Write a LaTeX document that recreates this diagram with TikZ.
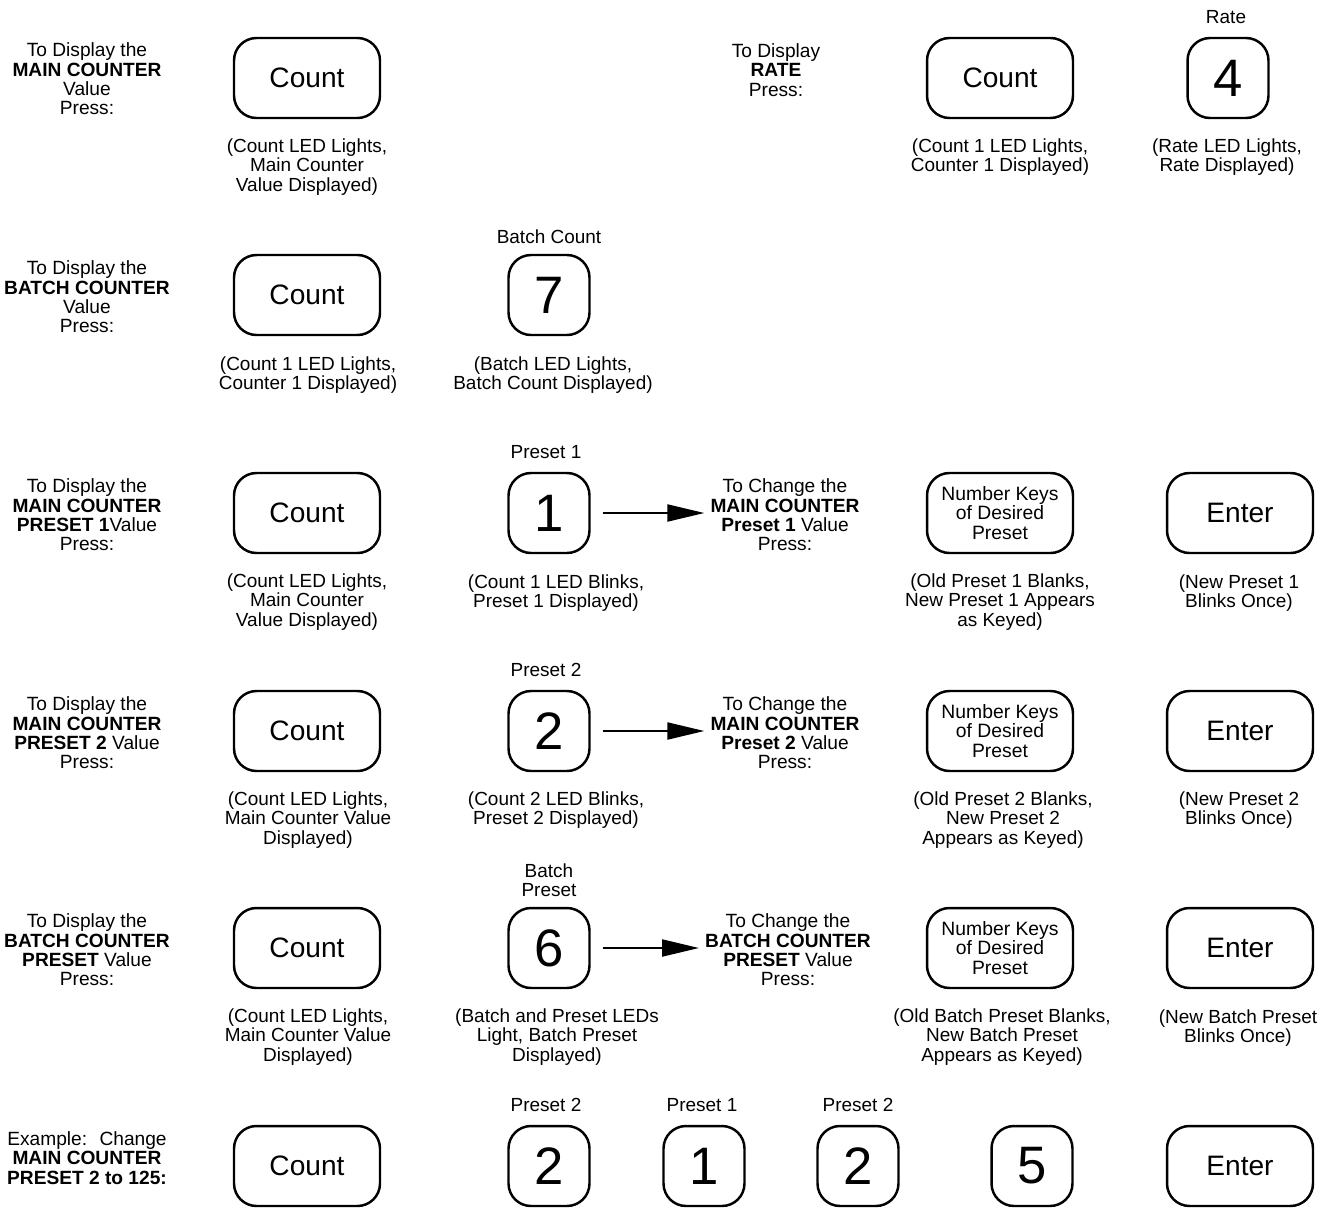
\documentclass[tikz,border=0pt]{standalone}
\usepackage{fontspec}
\setmainfont{Liberation Sans}
\usetikzlibrary{arrows.meta}
\usetikzlibrary{positioning}
\tikzset{widekey/.style = {draw, rounded corners = 0.45cm, line width = 1.4pt, minimum width = 2.92cm, minimum height = 1.6cm, inner sep = 0, font = \fontsize{16}{18}\selectfont}}
\tikzset{numkey/.style = {draw, rounded corners = 0.45cm, line width = 1.4pt, minimum width = 1.62cm, minimum height = 1.6cm, inner sep = 0, font = \fontsize{30}{32}\selectfont}}
\tikzset{side/.style = {align = center, font = \fontsize{10.9}{11}\selectfont}}
\tikzset{note/.style = {align = center, font = \fontsize{10.8}{11.05}\selectfont}}
\tikzset{tag/.style = {align = center, font = \fontsize{10.8}{11.05}\selectfont}}
\tikzset{arr/.style = {line width = 1.2pt, -{Triangle[length = 0.74cm, width = 0.34cm]}, shorten <= 0.24cm}}

\begin{document}
\begin{tikzpicture}[x = 0.02cm, y = -0.02cm]
    \useasboundingbox (0, 0) rectangle (1325, 1207);
    % main counter value
    \node[side] (dmain) at (87, 79) {To Display the\\\textbf{MAIN COUNTER}\\Value\\Press:};
    \node[widekey] (cnta) at (307, 78) {Count};
    \node[note] (ncnta) at (307, 167) {(Count LED Lights,\\Main Counter\\Value Displayed)};
    % rate
    \node[side] (drate) at (776, 70) {To Display\\\textbf{RATE}\\Press:};
    \node[widekey] (cntr) at (1000, 78) {Count};
    \node[note] (ncntr) at (1000, 157) {(Count 1 LED Lights,\\Counter 1 Displayed)};
    \node[tag] (tfour) at (1226, 17) {Rate};
    \node[numkey] (kfour) at (1228, 78) {4};
    \node[note] (nfour) at (1227, 157) {(Rate LED Lights,\\Rate Displayed)};
    % batch counter value
    \node[side] (dbatch) at (87, 297) {To Display the\\\textbf{BATCH COUNTER}\\Value\\Press:};
    \node[widekey] (cntb) at (307, 295) {Count};
    \node[note] (ncntb) at (308, 375) {(Count 1 LED Lights,\\Counter 1 Displayed)};
    \node[tag] (tseven) at (549, 237) {Batch Count};
    \node[numkey] (kseven) at (549, 295) {7};
    \node[note] (nseven) at (553, 375) {(Batch LED Lights,\\Batch Count Displayed)};
    % preset 1
    \node[side] (dpone) at (87, 515) {To Display the\\\textbf{MAIN COUNTER}\\\textbf{PRESET 1}Value\\Press:};
    \node[widekey] (cntc) at (307, 513) {Count};
    \node[note] (ncntc) at (307, 602) {(Count LED Lights,\\Main Counter\\Value Displayed)};
    \node[tag] (tone) at (546, 452) {Preset 1};
    \node[numkey] (kone) at (549, 513) {1};
    \node[note] (none) at (556, 593) {(Count 1 LED Blinks,\\Preset 1 Displayed)};
    \node[side] (cpone) at (785, 515) {To Change the\\\textbf{MAIN COUNTER}\\\textbf{Preset 1} Value\\Press:};
    \node[widekey, align = center, font = \fontsize{11}{11.05}\selectfont] (numc) at (1000, 513) {Number Keys\\of Desired\\Preset};
    \node[note] (nnumc) at (1000, 602) {(Old Preset 1 Blanks,\\New Preset 1 Appears\\as Keyed)};
    \node[widekey] (entc) at (1240, 513) {Enter};
    \node[note] (nentc) at (1239, 593) {(New Preset 1\\Blinks Once)};
    \draw[arr] (kone.east) -- (kone.east -| cpone.west);
    % preset 2
    \node[side] (dptwo) at (87, 733) {To Display the\\\textbf{MAIN COUNTER}\\\textbf{PRESET 2} Value\\Press:};
    \node[widekey] (cntd) at (307, 731) {Count};
    \node[note] (ncntd) at (308, 820) {(Count LED Lights,\\Main Counter Value\\Displayed)};
    \node[tag] (ttwo) at (546, 670) {Preset 2};
    \node[numkey] (ktwo) at (549, 731) {2};
    \node[note] (ntwo) at (556, 810) {(Count 2 LED Blinks,\\Preset 2 Displayed)};
    \node[side] (cptwo) at (785, 733) {To Change the\\\textbf{MAIN COUNTER}\\\textbf{Preset 2} Value\\Press:};
    \node[widekey, align = center, font = \fontsize{11}{11.05}\selectfont] (numd) at (1000, 731) {Number Keys\\of Desired\\Preset};
    \node[note] (nnumd) at (1003, 820) {(Old Preset 2 Blanks,\\New Preset 2\\Appears as Keyed)};
    \node[widekey] (entd) at (1240, 731) {Enter};
    \node[note] (nentd) at (1239, 810) {(New Preset 2\\Blinks Once)};
    \draw[arr] (ktwo.east) -- (ktwo.east -| cptwo.west);
    % batch preset
    \node[side] (dbp) at (87, 950) {To Display the\\\textbf{BATCH COUNTER}\\\textbf{PRESET} Value\\Press:};
    \node[widekey] (cnte) at (307, 948) {Count};
    \node[note] (ncnte) at (308, 1037) {(Count LED Lights,\\Main Counter Value\\Displayed)};
    \node[tag] (tsix) at (549, 880) {Batch\\Preset};
    \node[numkey] (ksix) at (549, 948) {6};
    \node[note] (nsix) at (557, 1037) {(Batch and Preset LEDs\\Light, Batch Preset\\Displayed)};
    \node[side] (cbp) at (788, 950) {To Change the\\\textbf{BATCH COUNTER}\\\textbf{PRESET} Value\\Press:};
    \node[widekey, align = center, font = \fontsize{11}{11.05}\selectfont] (nume) at (1000, 948) {Number Keys\\of Desired\\Preset};
    \node[note] (nnume) at (1002, 1037) {(Old Batch Preset Blanks,\\New Batch Preset\\Appears as Keyed)};
    \node[widekey] (ente) at (1240, 948) {Enter};
    \node[note] (nente) at (1238, 1028) {(New Batch Preset\\Blinks Once)};
    \draw[arr] (ksix.east) -- (ksix.east -| cbp.west);
    % example
    \node[side] (dex) at (87, 1158) {Example:~ Change\\\textbf{MAIN COUNTER}\\\textbf{PRESET 2 to 125:}};
    \node[widekey] (cntf) at (307, 1166) {Count};
    \node[tag] (texa) at (546, 1105) {Preset 2};
    \node[numkey] (kexa) at (549, 1166) {2};
    \node[tag] (texb) at (702, 1105) {Preset 1};
    \node[numkey] (kexb) at (704, 1166) {1};
    \node[tag] (texc) at (858, 1105) {Preset 2};
    \node[numkey] (kexc) at (858, 1166) {2};
    \node[numkey] (kexd) at (1032, 1166) {5};
    \node[widekey] (entf) at (1240, 1166) {Enter};
\end{tikzpicture}
\end{document}
